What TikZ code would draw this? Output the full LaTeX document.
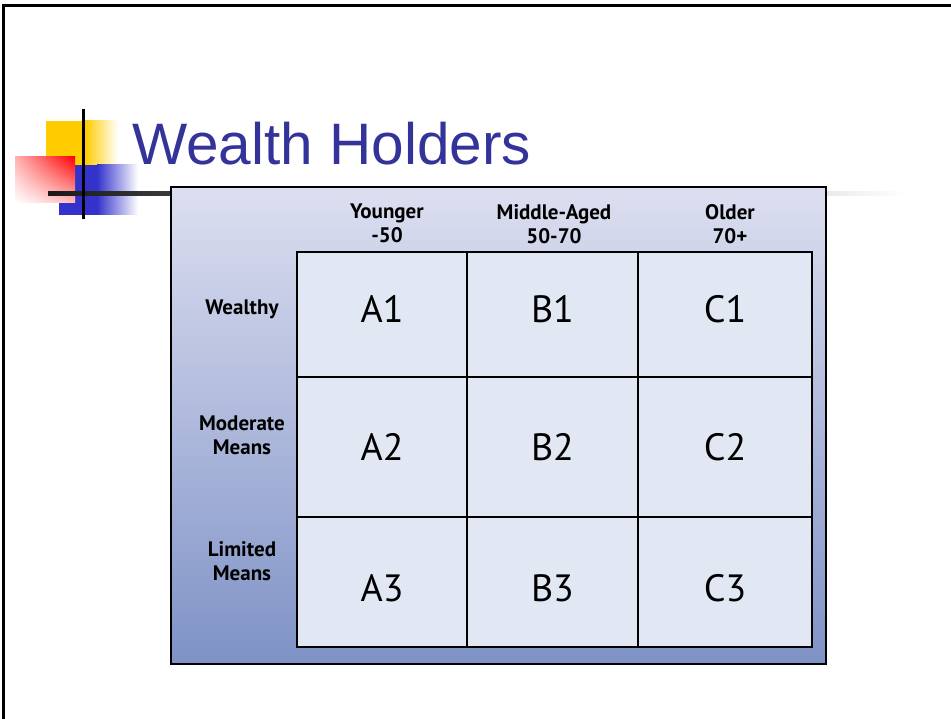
\documentclass[tikz,border=0pt]{standalone}
\usepackage{fontspec}
\setmainfont{Liberation Sans}
\newfontfamily\gridfont{PT Sans}
\usetikzlibrary{positioning, shadings}

\definecolor{titleblue}{RGB}{51,51,153}
\definecolor{bandtop}{RGB}{221,223,240}
\definecolor{bandbottom}{RGB}{126,146,198}
\definecolor{cellfill}{RGB}{226,232,243}
\definecolor{decoyellow}{RGB}{255,204,0}
\definecolor{decoblue}{RGB}{51,51,204}

\begin{document}
\begin{tikzpicture}[x = 1pt, y = -1pt,
	headtext/.style = {font = \gridfont\bfseries\fontsize{21}{24}\selectfont, align = center, inner sep = 0pt, anchor = north},
	celltext/.style = {font = \gridfont\fontsize{38}{40}\selectfont, inner sep = 0pt},
	gridline/.style = {draw = black, line width = 1.5pt, fill = cellfill}]

	\useasboundingbox (0, 0) rectangle (951, 719);

	% Slide frame

	\draw [line width = 3pt] (3, 719) -- (3, 6) -- (960, 6);

	% Corner squares w/cross

	\fill [decoyellow] (46, 121) rectangle (86, 165);
	\shade [left color = decoyellow, right color = white] (85, 121) rectangle (118, 165);
	\fill [decoblue] (59, 165) rectangle (98, 215);
	\shade [left color = decoblue, right color = white] (97, 165) rectangle (138, 215);
	\shade [upper right = red, upper left = red!30, lower right = red!25, lower left = white] (15, 157) rectangle (75, 203);
	\shade [left color = black!90, right color = white] (48, 192) rectangle (905, 196);
	\draw [line width = 3pt] (83, 109) -- (83, 219);

	% Title

	\node [font = \fontsize{58.5}{60}\selectfont, text = titleblue, anchor = base west, inner sep = 0pt] (title) at (132, 165) {Wealth Holders};

	% Table w/grid

	\draw [line width = 2pt, top color = bandtop, bottom color = bandbottom] (171, 187) rectangle (826, 664);

	\foreach \c/\xa/\xb in {A/297/467, B/467/638, C/638/812}
		\foreach \r/\ya/\yb/\yt in {1/252/377/309, 2/377/517/447, 3/517/647/588}
		{
			\draw [gridline] (\xa, \ya) rectangle (\xb, \yb);
			\node [celltext] (\c\r) at ({(\xa + \xb) / 2}, \yt) {\c\r};
		}

	% Column and row heads

	\node [headtext] (young) at (387, 204) {Younger\\-50};
	\node [headtext] (middle) at (554, 204) {Middle-Aged\\50-70};
	\node [headtext] (old) at (730, 204) {Older\\70+};

	\node [headtext] (wealthy) at (242, 300) {Wealthy};
	\node [headtext] (moderate) at (242, 416) {Moderate\\Means};
	\node [headtext] (limited) at (242, 541) {Limited\\Means};

\end{tikzpicture}
\end{document}
